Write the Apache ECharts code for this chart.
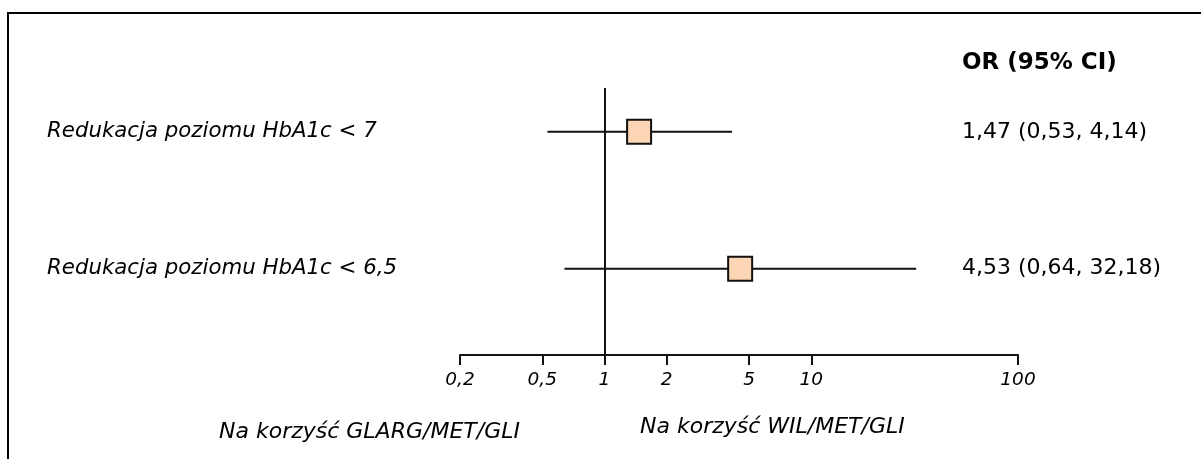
<!DOCTYPE html>
<html>
<head>
<meta charset="utf-8">
<script src="https://cdn.jsdelivr.net/npm/echarts@6/dist/echarts.min.js"></script>
<style>html,body{margin:0;padding:0;background:#fff}#c{width:1201px;height:459px}</style>
</head>
<body>
<div id="c"></div>
<script>
var rowNames = ['Redukacja poziomu HbA1c < 7', 'Redukacja poziomu HbA1c < 6,5'];
var orValues = [1.47, 4.53];
var ciLow = [0.53, 0.64];
var ciHigh = [4.14, 32.18];
var orText = ['1,47 (0,53, 4,14)', '4,53 (0,64, 32,18)'];
var tickValues = [0.2, 0.5, 1, 2, 5, 10, 100];
var tickLabels = ['0,2', '0,5', '1', '2', '5', '10', '100'];
var headerText = 'OR (95% CI)';
var favourLeft = 'Na korzyść GLARG/MET/GLI';
var favourRight = 'Na korzyść WIL/MET/GLI';

var FONT = 'DejaVu Sans';
var rowIdx = rowNames.map(function (_, i) { return i + 1; });

var series = [];
rowIdx.forEach(function (r, i) {
  series.push({
    type: 'line',
    data: [[ciLow[i], r], [ciHigh[i], r]],
    symbol: 'none',
    silent: true,
    lineStyle: { color: '#111', width: 2 },
    z: 2,
    markLine: i === 0 ? {
      silent: true,
      symbol: 'none',
      label: { show: false },
      lineStyle: { color: '#111', width: 2, type: 'solid' },
      data: [{ xAxis: 1 }]
    } : undefined
  });
});
series.push({
  type: 'scatter',
  data: rowIdx.map(function (r, i) { return [orValues[i], r]; }),
  symbol: 'rect',
  symbolSize: 24,
  itemStyle: { color: '#FCD5B4', borderColor: '#111', borderWidth: 2, opacity: 1 },
  z: 5
});

function tickFmt(v) {
  var best = 0, bd = Infinity;
  tickValues.forEach(function (t, i) {
    var d = Math.abs(Math.log(t) - Math.log(v));
    if (d < bd) { bd = d; best = i; }
  });
  return tickLabels[best];
}

var chart = echarts.init(document.getElementById('c'), null, { renderer: 'canvas' });
chart.setOption({
  animation: false,
  backgroundColor: '#fff',
  grid: { left: 460, right: 183, top: 88, bottom: 104, containLabel: false },
  title: [
    { text: headerText, left: 957, top: 47, textStyle: { fontFamily: FONT, fontSize: 23, fontWeight: 'bold', color: '#000' } },
    { text: favourLeft, left: 214, top: 416, textStyle: { fontFamily: FONT, fontStyle: 'italic', fontSize: 22, fontWeight: 'normal', color: '#000' } },
    { text: favourRight, left: 635, top: 411, textStyle: { fontFamily: FONT, fontStyle: 'italic', fontSize: 22, fontWeight: 'normal', color: '#000' } }
  ],
  graphic: [{
    type: 'rect',
    shape: { x: 8, y: 13, width: 1400, height: 700 },
    style: { fill: 'none', stroke: '#000', lineWidth: 2 },
    silent: true
  }],
  xAxis: {
    type: 'log',
    logBase: 10,
    min: 0.2,
    max: 100,
    axisLine: { show: true, lineStyle: { color: '#111', width: 2 } },
    axisTick: { show: true, customValues: tickValues, length: 10, lineStyle: { color: '#111', width: 2 } },
    axisLabel: { customValues: tickValues, formatter: tickFmt, margin: 16, fontFamily: FONT, fontStyle: 'italic', fontSize: 18.5, color: '#000' },
    splitLine: { show: false },
    minorTick: { show: false }
  },
  yAxis: [{
    type: 'value',
    inverse: true,
    min: 0.68,
    max: 2.63,
    axisLine: { show: false },
    axisTick: { show: false },
    splitLine: { show: false },
    axisLabel: {
      customValues: rowIdx,
      formatter: function (v) { return rowNames[Math.round(v) - 1]; },
      align: 'left',
      margin: 413,
      fontFamily: FONT, fontStyle: 'italic', fontSize: 21.3, color: '#000'
    }
  }, {
    type: 'value',
    position: 'right',
    inverse: true,
    min: 0.68,
    max: 2.63,
    axisLine: { show: false },
    axisTick: { show: false },
    splitLine: { show: false },
    axisLabel: {
      customValues: rowIdx,
      formatter: function (v) { return orText[Math.round(v) - 1]; },
      align: 'left',
      margin: -56,
      fontFamily: FONT, fontSize: 22, color: '#000'
    }
  }],
  series: series
});
</script>
</body>
</html>
